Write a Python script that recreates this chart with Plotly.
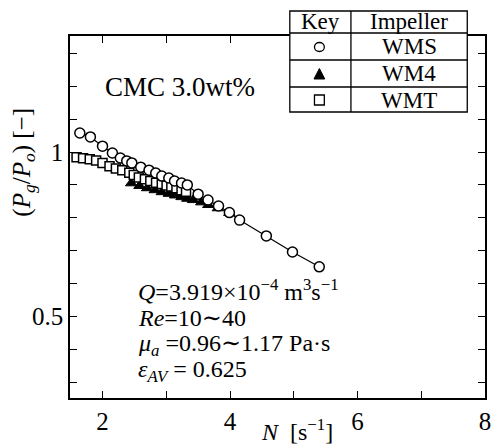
import plotly.graph_objects as go

# ---------------- data ----------------
wms_N = [1.644, 1.81, 2.0, 2.155, 2.28, 2.38, 2.46, 2.60, 2.73, 2.835, 2.93, 3.04,
         3.13, 3.24, 3.33, 3.50, 3.655, 3.82, 3.99, 4.15, 4.57, 4.98, 5.40]
wms_P = [1.058, 1.046, 1.018, 0.997, 0.982, 0.973, 0.967, 0.954, 0.945, 0.936, 0.927, 0.921,
         0.912, 0.906, 0.900, 0.872, 0.854, 0.836, 0.816, 0.793, 0.745, 0.696, 0.651]

wm4_N = [2.45, 2.58, 2.7, 2.82, 2.93, 3.04, 3.14, 3.24, 3.33, 3.42, 3.55, 3.66, 3.81, 3.99]
wm4_P = [0.905, 0.897, 0.89, 0.884, 0.878, 0.873, 0.868, 0.863, 0.858, 0.854, 0.847, 0.839, 0.829, 0.815]

wmt_N = [1.593, 1.695, 1.80, 1.90, 2.00, 2.11, 2.21, 2.31, 2.42, 2.49, 2.57, 2.665,
         2.75, 2.84, 2.93, 3.005, 3.08, 3.16, 3.24, 3.31]
wmt_P = [0.984, 0.981, 0.978, 0.974, 0.967, 0.957, 0.950, 0.945, 0.937, 0.930, 0.923, 0.917,
         0.912, 0.907, 0.903, 0.898, 0.895, 0.890, 0.884, 0.879]

x_tickvals = [2, 4, 6, 8]
x_ticktext = ["2", "4", "6", "8"]
x_minorvals = [3, 5, 7]
y_tickvals = [0.5, 1.0]
y_ticktext = ["0.5", "1"]
y_minorvals = [0.3, 0.4, 0.6, 0.7, 0.8, 0.9, 1.1, 1.2, 1.3]

# ---------------- layout geometry ----------------
W, H = 498, 446
L, R, T, B = 70, 491, 36, 398
SERIF = "Liberation Serif, Times New Roman, DejaVu Serif, serif"


def px(x):
    return (x - L) / (R - L)


def py(y):
    return (B - y) / (B - T)


fig = go.Figure()

fig.add_trace(go.Scatter(x=wm4_N, y=wm4_P, mode="markers", name="WM4",
                         marker=dict(symbol="triangle-up", size=10, color="black",
                                     line=dict(color="black", width=1))))
fig.add_trace(go.Scatter(x=wmt_N, y=wmt_P, mode="markers", name="WMT",
                         marker=dict(symbol="square", size=9, color="white",
                                     line=dict(color="black", width=1.5))))
fig.add_trace(go.Scatter(x=wms_N, y=wms_P, mode="lines+markers", name="WMS",
                         line=dict(color="black", width=1.2),
                         marker=dict(symbol="circle", size=10, color="white",
                                     line=dict(color="black", width=1.5))))

axis_common = dict(showgrid=False, zeroline=False, showline=True, linecolor="black",
                   linewidth=1.6, ticks="inside", ticklen=7, tickwidth=1.2,
                   tickcolor="black", mirror="ticks",
                   tickfont=dict(family=SERIF, size=25, color="black"))
minor_common = dict(ticks="inside", ticklen=7, tickwidth=1.2, tickcolor="black", showgrid=False)

fig.update_xaxes(range=[1.49, 8.0], tickvals=x_tickvals, ticktext=x_ticktext,
                 minor=dict(tickvals=x_minorvals, **minor_common), **axis_common)
fig.update_yaxes(range=[0.252, 1.353], tickvals=y_tickvals, ticktext=y_ticktext,
                 minor=dict(tickvals=y_minorvals, **minor_common), **axis_common)

anns = []


def txt(x, y, s, size=22, xanchor="left", angle=0):
    anns.append(dict(x=px(x), y=py(y), xref="paper", yref="paper", text=s,
                     showarrow=False, xanchor=xanchor, yanchor="middle",
                     textangle=angle,
                     font=dict(family=SERIF, size=size, color="black")))


txt(103, 87, "CMC 3.0wt%", 27)
txt(137, 290, "<i>Q</i>=3.919×10<sup>−4</sup> m<sup>3</sup>s<sup>−1</sup>", 24)
txt(137, 318, "<i>Re</i>=10∼40", 24)
txt(137, 345, "<i>μ<sub>a</sub></i> =0.96∼1.17 Pa·s", 24)
txt(137, 371, "<i>ε<sub>AV</sub></i> = 0.625", 24)
txt(300, 430, "<i>N</i>  [s<sup>−1</sup>]", 24, xanchor="center")
txt(22, 162, "(<i>P<sub>g</sub></i>/<i>P<sub>o</sub></i>) [−]", 25, xanchor="center", angle=-90)

# legend table
tl, tm, tr = 293, 355, 473
rows = [11, 33, 60, 87, 112]
shapes = [dict(type="rect", xref="paper", yref="paper", x0=px(tl), x1=px(tr),
               y0=py(rows[0]), y1=py(rows[-1]), fillcolor="white",
               line=dict(color="black", width=1.3), layer="above")]
shapes.append(dict(type="line", xref="paper", yref="paper", x0=px(tm), x1=px(tm),
                   y0=py(rows[0]), y1=py(rows[-1]), line=dict(color="black", width=1.3)))
for r in rows[1:-1]:
    shapes.append(dict(type="line", xref="paper", yref="paper", x0=px(tl), x1=px(tr),
                       y0=py(r), y1=py(r), line=dict(color="black", width=1.3)))
# key symbols
cx = 323
shapes.append(dict(type="circle", xref="paper", yref="paper", x0=px(cx - 5), x1=px(cx + 5),
                   y0=py(47 + 4.5), y1=py(47 - 4.5), line=dict(color="black", width=1.3)))
shapes.append(dict(type="path", xref="paper", yref="paper",
                   path=f"M {px(cx-5.5)},{py(79)} L {px(cx+5.5)},{py(79)} L {px(cx)},{py(68.5)} Z",
                   fillcolor="black", line=dict(color="black", width=1)))
shapes.append(dict(type="rect", xref="paper", yref="paper", x0=px(cx - 5), x1=px(cx + 5),
                   y0=py(105), y1=py(95), line=dict(color="black", width=1.3)))

txt((tl + tm) / 2, 22, "Key", 23, xanchor="center")
txt((tm + tr) / 2, 22, "Impeller", 23, xanchor="center")
txt((tm + tr) / 2, 47, "WMS", 23, xanchor="center")
txt((tm + tr) / 2, 74, "WM4", 23, xanchor="center")
txt((tm + tr) / 2, 100, "WMT", 23, xanchor="center")

fig.update_layout(width=W, height=H, margin=dict(l=L, r=W - R, t=T, b=H - B),
                  paper_bgcolor="white", plot_bgcolor="white", showlegend=False,
                  annotations=anns, shapes=shapes)

fig.write_html("out.html")
